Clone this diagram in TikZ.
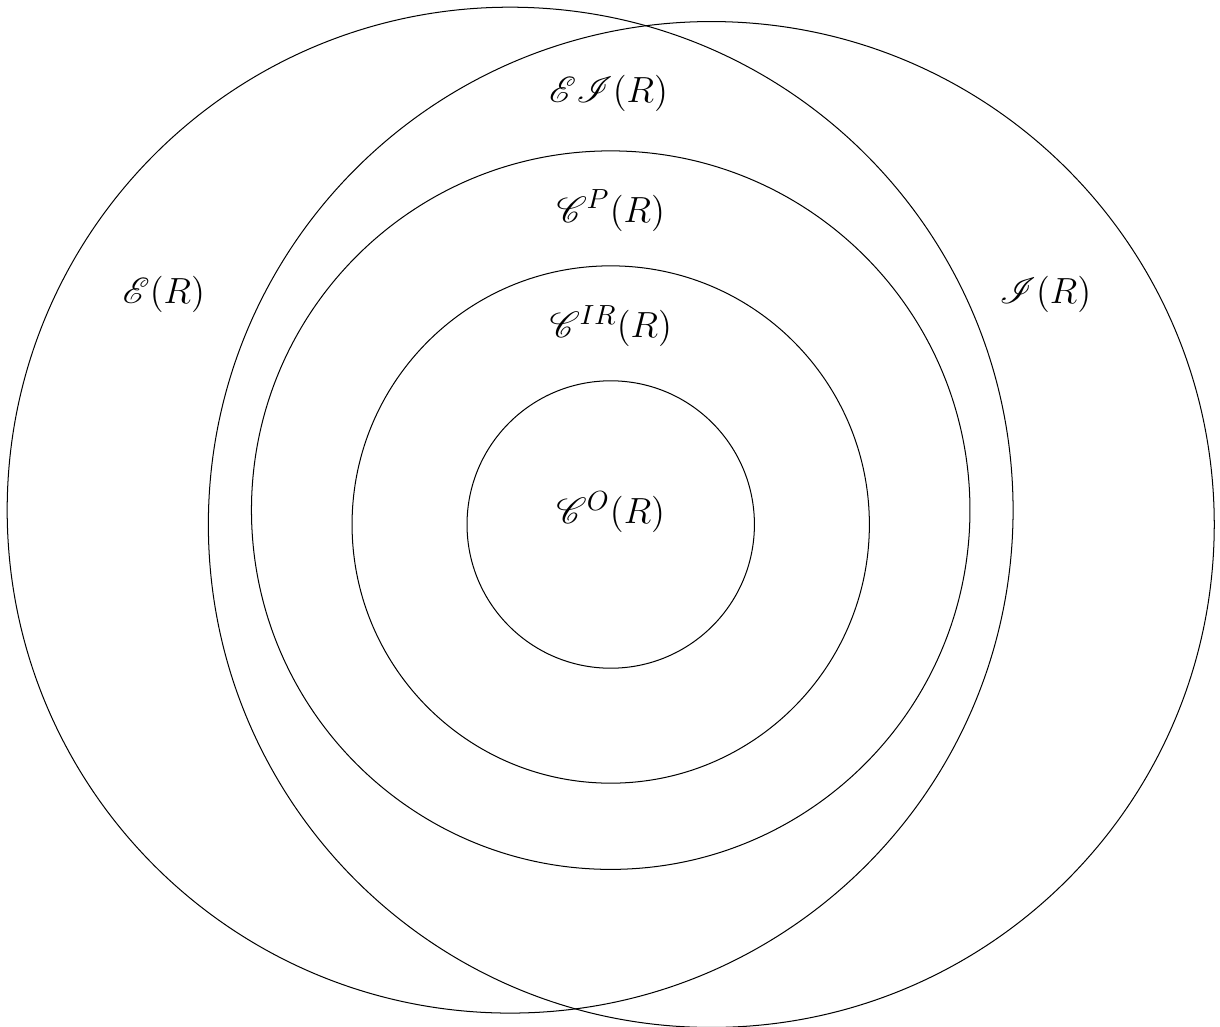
\documentclass[tikz,border=0pt]{standalone}
\usepackage{mathrsfs}
\tikzset{ring/.style={draw=black, line width=0.4pt}, lbl/.style={font=\fontsize{15.8}{19}\selectfont, inner sep=0pt}}
\begin{document}
\begin{tikzpicture}
\useasboundingbox (-8.5,-7.18) rectangle (8.48,7.1);
\draw[ring] (-1.4,0) circle (7);
\draw[ring] (1.4,-0.2) circle (7);
\draw[ring] (0,0) circle (5);
\draw[ring] (0,-0.2) circle (3.6);
\draw[ring] (0,-0.2) circle (2);
\node[lbl] (ei) at (-0.03,5.8) {$\mathscr{E}\mathscr{I}(R)$};
\node[lbl] (cp) at (0,4.17) {$\mathscr{C}^P(R)$};
\node[lbl] (cir) at (0,2.56) {$\mathscr{C}^{IR}(R)$};
\node[lbl] (co) at (0,-0.03) {$\mathscr{C}^O(R)$};
\node[lbl] (e) at (-6.22,3.0) {$\mathscr{E}(R)$};
\node[lbl] (i) at (6.05,3.0) {$\mathscr{I}(R)$};
\end{tikzpicture}
\end{document}
